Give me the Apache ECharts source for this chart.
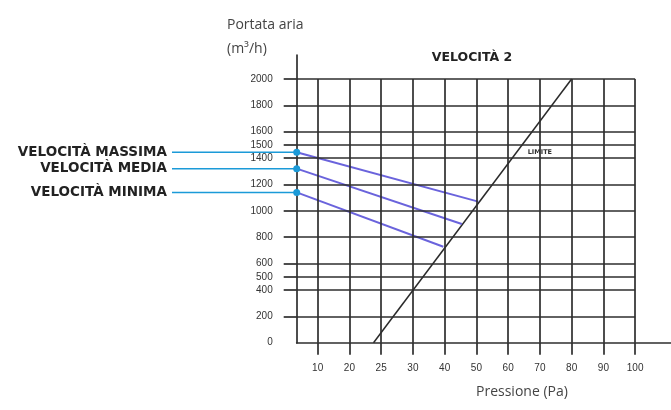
<!DOCTYPE html>
<html><head><meta charset="utf-8">
<script src="https://cdn.jsdelivr.net/npm/echarts@6/dist/echarts.min.js"></script>
<style>html,body{margin:0;padding:0;background:#fff}#c{width:671px;height:410px}</style>
</head><body><div id="c"></div>
<script>
// ---- data ----
const xTickLabels = [10, 20, 25, 30, 40, 50, 60, 70, 80, 90, 100];   // Pa
const yTickValues = [0, 200, 400, 500, 600, 800, 1000, 1200, 1400, 1500, 1600, 1800, 2000]; // m3/h
const velMassima = [[3.4, 1445], [50.6, 1070]];
const velMedia   = [[3.4, 1320], [45.4, 900]];
const velMinima  = [[3.4, 1140], [39.6, 728]];
const limite     = [[23.8, 0], [80, 2000]];
const seriesNames = ['VELOCITÀ MASSIMA', 'VELOCITÀ MEDIA', 'VELOCITÀ MINIMA'];

// pressure -> evenly spaced tick position (tick i at position i+1)
function pos(p) {
  const t = xTickLabels;
  if (p <= t[0]) return 1 + (p - t[0]) / (t[1] - t[0]);
  for (let i = 0; i < t.length - 1; i++) {
    if (p <= t[i + 1]) return i + 1 + (p - t[i]) / (t[i + 1] - t[i]);
  }
  const n = t.length;
  return n + (p - t[n - 1]) / (t[n - 1] - t[n - 2]);
}
const toPos = arr => arr.map(d => [pos(d[0]), d[1]]);

const xMin = pos(3.4), xMax = 12.13, yMax = 2182;
const tickPos = xTickLabels.map((_, i) => i + 1);
const gridY = yTickValues.filter(v => v > 0);
const lastPos = tickPos[tickPos.length - 1];
const gridTop = yTickValues[yTickValues.length - 1];

const gridColor = '#2e2e2e';
const markData = [];
gridY.forEach(v => markData.push([{coord: [xMin, v]}, {coord: [lastPos, v]}]));
tickPos.forEach(p => markData.push([{coord: [p, 0]}, {coord: [p, gridTop]}]));

const blueSets = [velMassima, velMedia, velMinima];

const series = [{
  type: 'line', name: 'LIMITE', data: toPos(limite), symbol: 'none', silent: true,
  lineStyle: {color: '#2a2a2a', width: 1.5}, z: 3,
  markLine: {silent: true, symbol: 'none', animation: false, label: {show: false},
    lineStyle: {color: gridColor, width: 1.7, type: 'solid'}, data: markData},
  markPoint: {symbol: 'circle', symbolSize: 0, data: [{coord: [pos(70), 1447],
    label: {show: true, formatter: 'LIMITE', color: '#333', fontSize: 6.5, fontWeight: 'bold',
      fontFamily: 'DejaVu Sans'}}]}
}];
blueSets.forEach((d, i) => {
  series.push({type: 'line', name: seriesNames[i], data: toPos(d), symbol: 'none', silent: true,
    lineStyle: {color: '#5a52d8', width: 2, opacity: 0.9}, z: 4});
  // leader line with label, in the side grid (x from 0 to 1 = from label end to the y axis)
  series.push({type: 'line', xAxisIndex: 1, yAxisIndex: 1, data: [[0, d[0][1]], [1, d[0][1]]],
    clip: false, silent: true, z: 6,
    symbol: 'circle', symbolSize: (v, p) => p.dataIndex === 1 ? 7 : 0, showAllSymbol: true,
    itemStyle: {color: '#1b9ad8'}, lineStyle: {color: '#1b9ad8', width: 1.5},
    label: {show: true, position: 'left', distance: 5,
      formatter: p => p.dataIndex === 0 ? seriesNames[i] : '',
      color: '#222', fontSize: 13.5, fontFamily: 'DejaVu Sans', fontWeight: 'bold'}});
});

const chart = echarts.init(document.getElementById('c'));
chart.setOption({
  animation: false,
  grid: [{left: 296.7, right: 0, top: 55, bottom: 67.3},
         {left: 172, width: 124.7, top: 55, bottom: 67.3}],
  title: {text: 'VELOCITÀ 2', left: 467, top: 46, textAlign: 'center',
    textStyle: {fontSize: 12.5, fontWeight: 'bold', color: '#222', fontFamily: 'DejaVu Sans'}},
  graphic: [
    {type: 'text', left: 227, top: 13, style: {text: 'Portata aria\n(m³/h)', fill: '#444',
      font: '14px "Open Sans"', lineHeight: 24}},
    {type: 'text', left: 476, top: 385, style: {text: 'Pressione (Pa)', fill: '#444',
      font: '14px "Open Sans"', textAlign: 'center'}}
  ],
  xAxis: [{type: 'value', min: xMin, max: xMax,
    axisLine: {show: true, onZero: false, lineStyle: {color: gridColor, width: 1.7}},
    splitLine: {show: false},
    axisTick: {show: true, customValues: tickPos, length: 12, lineStyle: {color: gridColor, width: 1.7}},
    axisLabel: {customValues: tickPos, margin: 21, color: '#333', fontSize: 10,
      fontFamily: 'Liberation Sans',
      formatter: v => String(xTickLabels[Math.round(v) - 1])}},
    {type: 'value', gridIndex: 1, min: 0, max: 1, show: false}],
  yAxis: [{type: 'value', min: 0, max: yMax,
    axisLine: {show: true, lineStyle: {color: gridColor, width: 1.7}},
    splitLine: {show: false},
    axisTick: {show: true, customValues: gridY, length: 13, lineStyle: {color: gridColor, width: 1.7}},
    axisLabel: {customValues: yTickValues, margin: 24, color: '#333', fontSize: 10,
      fontFamily: 'Liberation Sans', formatter: v => String(v)}},
    {type: 'value', gridIndex: 1, min: 0, max: yMax, show: false}],
  series: series
});
</script></body></html>
